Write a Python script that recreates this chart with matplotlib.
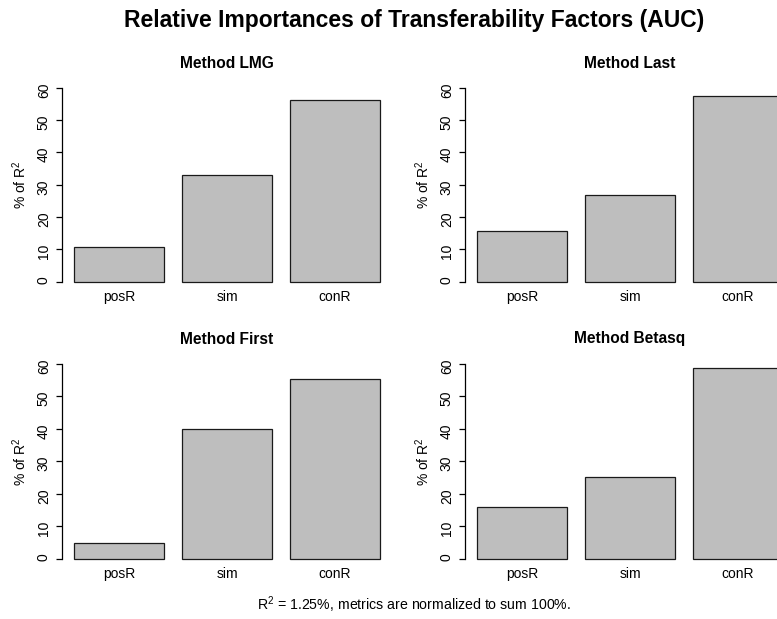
import numpy as np
import matplotlib as mp
mp.use('Agg')
import matplotlib.pyplot as plt

plt.rcParams['font.family'] = ['Liberation Sans', 'DejaVu Sans']
plt.rcParams['mathtext.fontset'] = 'custom'
plt.rcParams['mathtext.rm'] = 'Liberation Sans'

factors = ['posR', 'sim', 'conR']
methods = ['LMG', 'Last', 'First', 'Betasq']
lmg = [10.7, 33.1, 56.2]
last = [15.7, 26.8, 57.5]
first = [4.8, 39.9, 55.3]
betasq = [16.0, 25.2, 58.8]
yticks = [0, 10, 20, 30, 40, 50, 60]
r2_text = r'$\mathregular{R^2}$ = 1.25%, metrics are normalized to sum 100%.'
main_title = 'Relative Importances of Transferability Factors (AUC)'

W, H = 777, 619
fig = plt.figure(figsize=(W / 100, H / 100), dpi=100)


def px(x, y):
    return x / W, 1 - y / H


# plot regions in pixels: (left, top, right, bottom)
regions = [(62, 80, 392, 289.5), (465, 80, 795, 289.5),
           (62, 356, 392, 566.5), (465, 356, 795, 566.5)]
values = [lmg, last, first, betasq]

centers = 0.7 + 1.2 * np.arange(len(factors))

for (l, t, r, b), name, vals in zip(regions, methods, values):
    ax = fig.add_axes([l / W, 1 - b / H, (r - l) / W, (b - t) / H])
    ax.bar(centers, vals, width=1.0, color='#bebebe', edgecolor='#1a1a1a', linewidth=0.9)
    ax.set_xlim(0.064, 3.736)
    ax.set_ylim(-2.4, 62.4)
    for s in ['top', 'right', 'bottom']:
        ax.spines[s].set_visible(False)
    ax.spines['left'].set_bounds(0, 60)
    ax.spines['left'].set_linewidth(0.9)
    ax.set_yticks(yticks)
    ax.set_yticklabels([str(v) for v in yticks], rotation=90, fontsize=10)
    ax.tick_params(axis='y', length=4.5, width=0.9, pad=3.5)
    ax.set_xticks(centers)
    ax.set_xticklabels(factors, fontsize=10)
    ax.tick_params(axis='x', length=0, pad=0.5)
    ax.patch.set_visible(False)
    cx = (l + r) / 2
    fig.text(*px(cx, t - 17), 'Method ' + name, ha='center', va='center',
             fontsize=11.2, fontweight='bold')
    fig.text(*px(l - 42, (t + b) / 2), r'% of $\mathregular{R^2}$', rotation=90,
             ha='center', va='center', fontsize=10)

fig.text(*px(414, 20), main_title, ha='center', va='center', fontsize=16.5, fontweight='bold')
fig.text(*px(414, 605), r2_text, ha='center', va='center', fontsize=10.2)

plt.savefig('out.png', dpi=100)
